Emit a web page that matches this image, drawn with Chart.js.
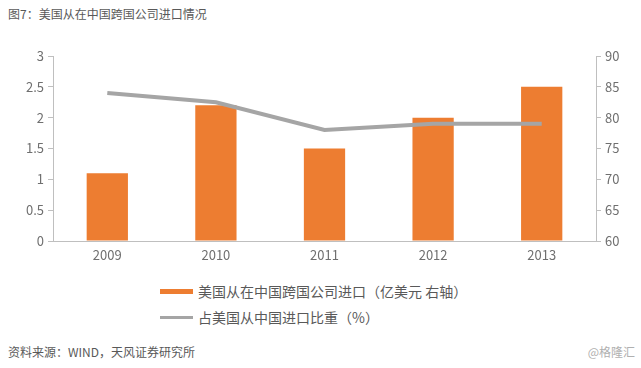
<!DOCTYPE html>
<html>
<head>
<meta charset="utf-8">
<script src="https://cdn.jsdelivr.net/npm/chart.js@4"></script>
<style>
  html, body { margin: 0; padding: 0; background: #fff; }
  body { width: 641px; height: 368px; position: relative; overflow: hidden;
         font-family: "Noto Sans CJK SC", "Noto Sans", sans-serif; color: #595959; }
  .title { position: absolute; left: 8px; top: 5px; font-size: 12px; }
  .wrap { position: absolute; left: 0; top: 0; width: 641px; height: 270px; }
  .legend { position: absolute; left: 160px; top: 278px; font-size: 14px; }
  .legend div { height: 26px; line-height: 20px; display: flex; align-items: center; }
  .legend span.mk { display: inline-block; width: 33px; margin-right: 5px; }
  .source { position: absolute; left: 8px; top: 343px; font-size: 12px; }
  .mark { position: absolute; right: 6px; top: 343px; font-size: 12px; color: #b0b0b0; }
</style>
</head>
<body>
<div class="title">图7：美国从在中国跨国公司进口情况</div>
<div class="wrap"><canvas id="chart" width="641" height="270"></canvas></div>
<div class="legend" id="legend"></div>
<div class="source">资料来源：WIND，天风证券研究所</div>
<div class="mark">@格隆汇</div>
<script>
  const years = ['2009', '2010', '2011', '2012', '2013'];
  const importValues = [1.1, 2.2, 1.5, 2.0, 2.5];
  const shareValues = [84, 82.5, 78, 79, 79];
  const seriesLabels = ['美国从在中国跨国公司进口（亿美元 右轴）', '占美国从中国进口比重（%）'];
  const barColor = '#ed7d31';
  const lineColor = '#a5a5a5';
  const axisColor = '#bfbfbf';
  const tickColor = '#6f6f6f';

  const tickFont = { family: '"Noto Sans CJK SC", sans-serif', size: 13 };

  new Chart(document.getElementById('chart'), {
    data: {
      labels: years,
      datasets: [
        {
          type: 'line',
          label: seriesLabels[1],
          data: shareValues,
          yAxisID: 'y1',
          borderColor: lineColor,
          borderWidth: 4,
          pointRadius: 0,
          tension: 0,
          order: 0,
        },
        {
          type: 'bar',
          label: seriesLabels[0],
          data: importValues,
          yAxisID: 'y',
          backgroundColor: barColor,
          categoryPercentage: 1,
          barPercentage: 0.38,
          order: 1,
        },
      ],
    },
    options: {
      responsive: false,
      animation: false,
      layout: { padding: { top: 56, left: 0, right: 0, bottom: 0 } },
      plugins: { legend: { display: false }, tooltip: { enabled: false } },
      scales: {
        x: {
          offset: true,
          grid: { drawOnChartArea: false, drawTicks: false },
          border: { color: axisColor, width: 1 },
          ticks: { color: tickColor, font: tickFont, padding: 6 },
          afterFit: (s) => { s.height = 29; },
        },
        y: {
          position: 'left',
          min: 0,
          max: 3,
          ticks: { stepSize: 0.5, color: tickColor, font: tickFont, padding: 4,
                   callback: (v) => String(v) },
          grid: { drawOnChartArea: false, tickLength: 5, color: axisColor },
          border: { color: axisColor, width: 1 },
          afterFit: (s) => { s.width = 53; },
        },
        y1: {
          position: 'right',
          min: 60,
          max: 90,
          ticks: { stepSize: 5, color: tickColor, font: tickFont, padding: 4 },
          grid: { drawOnChartArea: false, tickLength: 5, color: axisColor },
          border: { color: axisColor, width: 1 },
          afterFit: (s) => { s.width = 45; },
        },
      },
    },
  });

  // legend, two rows like the original
  const legend = document.getElementById('legend');
  [[seriesLabels[0], barColor, 5], [seriesLabels[1], lineColor, 3]].forEach(([text, color, h]) => {
    const row = document.createElement('div');
    const mk = document.createElement('span');
    mk.className = 'mk';
    mk.style.height = h + 'px';
    mk.style.background = color;
    row.appendChild(mk);
    row.appendChild(document.createTextNode(text));
    legend.appendChild(row);
  });
</script>
</body>
</html>
